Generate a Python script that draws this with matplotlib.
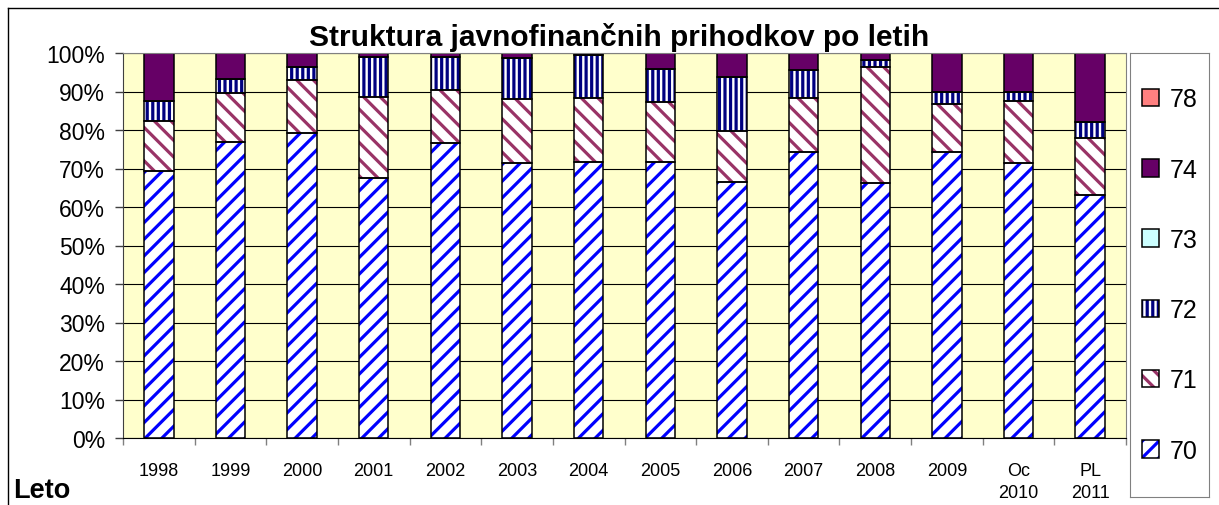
import numpy as np
import matplotlib.pyplot as plt
from matplotlib.lines import Line2D
from matplotlib.legend_handler import HandlerTuple

plt.rcParams['font.family'] = ['Liberation Sans', 'DejaVu Sans']
plt.rcParams['hatch.linewidth'] = 2.3

# data (shares in %)
years = ['1998', '1999', '2000', '2001', '2002', '2003', '2004', '2005',
         '2006', '2007', '2008', '2009', 'Oc\n2010', 'PL\n2011']
s70 = [69.4, 77.0, 79.2, 67.5, 76.5, 71.3, 71.8, 71.8, 66.6, 74.2, 66.2, 74.2, 71.4, 63.1]
s71 = [13.0, 12.5, 13.9, 21.2, 13.9, 16.7, 16.4, 15.6, 13.1, 14.2, 30.1, 12.6, 16.2, 14.7]
s72 = [5.2, 3.7, 3.2, 10.3, 8.6, 10.7, 11.3, 8.4, 14.1, 7.2, 1.9, 3.1, 2.2, 4.2]
s73 = [0, 0, 0, 0, 0, 0, 0, 0, 0, 0, 0, 0, 0, 0]
s74 = [12.4, 6.8, 3.7, 1.0, 1.0, 1.3, 0.5, 4.2, 6.2, 4.4, 1.8, 10.1, 10.2, 18.0]
s78 = [0, 0, 0, 0, 0, 0, 0, 0, 0, 0, 0, 0, 0, 0]
names = ['70', '71', '72', '73', '74', '78']

W, H = 1219, 506
fig = plt.figure(figsize=(W / 100, H / 100), dpi=100)
ax = fig.add_axes([123 / W, 1 - 439 / H, (1126 - 123) / W, (439 - 54) / H])
ax.set_facecolor('#FFFFCC')

# style per series: (hatch, hatch colour, face colour)
styles = {
    '70': ('//', '#0000FF', None),
    '71': ('\\\\', '#993366', None),
    '72': ('|||', '#000080', None),
    '73': (None, None, '#CCFFFF'),
    '74': (None, None, '#660066'),
    '78': (None, None, '#FF8080'),
}

x = np.arange(len(years))
width = 0.41
bottom = np.zeros(len(years))
handles = {}
for name, vals in zip(names, [s70, s71, s72, s73, s74, s78]):
    vals = np.array(vals, dtype=float)
    hatch, hcol, face = styles[name]
    if hatch:
        hb = ax.bar(x, vals, width, bottom=bottom, color='white',
                    edgecolor=hcol, hatch=hatch, linewidth=0, zorder=2)
        ob = ax.bar(x, vals, width, bottom=bottom, fill=False,
                    edgecolor='black', linewidth=1.1, zorder=3)
        handles[name] = (hb.patches[0], ob.patches[0])
    else:
        b = ax.bar(x, vals, width, bottom=bottom, color=face,
                   edgecolor='black', linewidth=1.1, zorder=2)
        handles[name] = b.patches[0]
    bottom += vals

ax.set_xlim(-0.5, len(years) - 0.5)
ax.set_ylim(0, 100)
ax.set_yticks(np.arange(0, 101, 10))
ax.set_yticklabels([f'{v}%' for v in range(0, 101, 10)], fontsize=16.5)
ax.yaxis.grid(True, color='black', linewidth=0.8, zorder=1)
ax.set_axisbelow(True)
ax.tick_params(axis='y', length=6, width=1, color='#404040', pad=7)

ax.set_xticks(np.arange(-0.5, len(years), 1))
ax.set_xticklabels([])
ax.set_xticks(x, minor=True)
ax.set_xticklabels(years, minor=True, fontsize=13)
ax.tick_params(axis='x', which='major', length=5, width=1, color='#808080')
ax.tick_params(axis='x', which='minor', length=0, pad=17)
for t in ax.get_xticklabels(minor=True):
    t.set_linespacing(1.4)
    t.set_verticalalignment('top')

for s in ['top', 'right']:
    ax.spines[s].set_color('#808080')
ax.spines['left'].set_color('#404040')
ax.spines['bottom'].set_color('black')

fig.text(619 / W, 1 - 46 / H, 'Struktura javnofinančnih prihodkov po letih',
         ha='center', va='baseline', fontsize=21.5, fontweight='bold')
fig.text(13 / W, 1 - 498 / H, 'Leto', ha='left', va='baseline',
         fontsize=19.5, fontweight='bold')

# outer border of the chart area
fig.add_artist(Line2D([8 / W, 1], [1 - 9 / H, 1 - 9 / H], color='black', linewidth=1))
fig.add_artist(Line2D([8 / W, 8 / W], [0, 1 - 9 / H], color='black', linewidth=1))

# legend box
lax = fig.add_axes([1130 / W, 1 - 498 / H, (1209 - 1130) / W, (498 - 54) / H])
lax.set_xticks([])
lax.set_yticks([])
for s in lax.spines.values():
    s.set_color('#808080')
order = names[::-1]
lax.legend([handles[n] for n in order], order, loc='center', frameon=False,
           fontsize=18, labelspacing=1.85, handlelength=0.7, handleheight=0.7,
           handletextpad=0.4, borderaxespad=0,
           handler_map={tuple: HandlerTuple(ndivide=1, pad=0)})

fig.savefig('out.png', dpi=100)
